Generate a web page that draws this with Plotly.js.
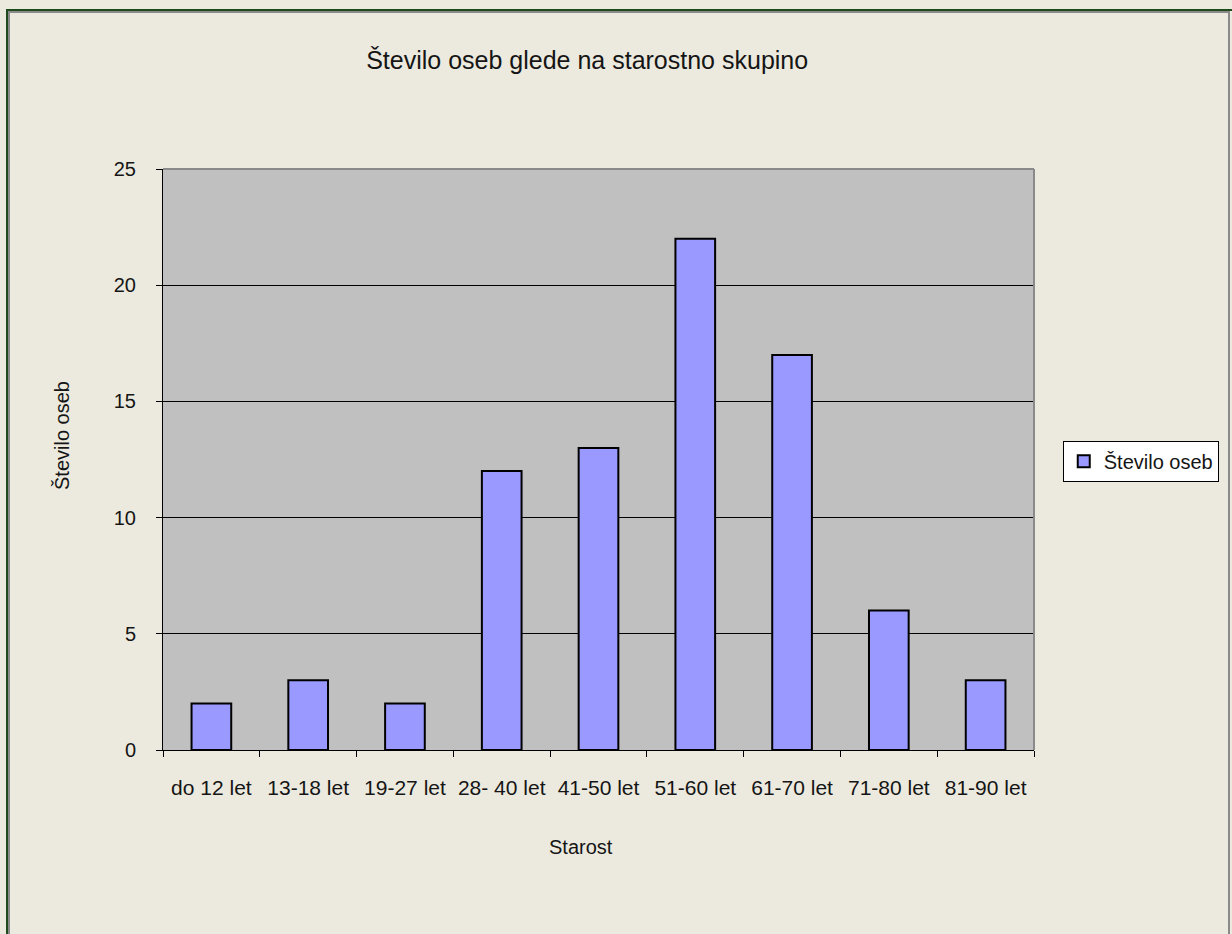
<!DOCTYPE html>
<html>
<head>
<meta charset="utf-8">
<script src="https://cdn.plot.ly/plotly-3.0.1.min.js"></script>
<style>
html, body { margin: 0; padding: 0; background: #ECEADF; }
#chart { width: 1232px; height: 934px; }
#frame { position: absolute; left: 6px; top: 9px; width: 1232px; height: 940px;
  border-left: 2px solid #1E4A1E; border-top: 2px solid #1E4A1E; box-sizing: border-box; pointer-events: none; }
#frame2 { position: absolute; left: 8px; top: 11px; width: 1222px; height: 940px;
  border-left: 2px solid #8A8A8A; border-top: 2px solid #8A8A8A; border-right: 2px solid #8A8A8A; box-sizing: border-box; pointer-events: none; }
</style>
</head>
<body>
<div id="chart"></div>
<div id="frame"></div>
<div id="frame2"></div>
<script>
const categories = ["do 12 let", "13-18 let", "19-27 let", "28- 40 let", "41-50 let", "51-60 let", "61-70 let", "71-80 let", "81-90 let"];
const values = [2, 3, 2, 12, 13, 22, 17, 6, 3];
const seriesName = "Število oseb";
const yTicks = [0, 5, 10, 15, 20, 25];
const xTitle = "Starost";
const yTitle = "Število oseb";

const font = "Liberation Sans, Arial, sans-serif";
const fs = 20;
const txt = "#151515";

const trace = {
  type: "bar",
  x: categories,
  y: values,
  name: seriesName,
  marker: { color: "#9999FF", line: { color: "#000000", width: 2 } },
  showlegend: true,
  hoverinfo: "x+y"
};

const layout = {
  width: 1232,
  height: 934,
  margin: { l: 163, r: 198, t: 169, b: 184 },
  paper_bgcolor: "#ECEADF",
  plot_bgcolor: "#C0C0C0",
  font: { family: font, size: fs, color: txt },
  title: { text: "Število oseb glede na starostno skupino", font: { family: font, size: 25, color: txt },
    x: 0.487, xanchor: "center", y: 0.936, yanchor: "middle", xref: "paper", yref: "container" },
  bargap: 0.59,
  showlegend: true,
  legend: { x: 1.033, xanchor: "left", y: 0.497, yanchor: "middle", bgcolor: "#FFFFFF",
    bordercolor: "#000000", borderwidth: 1, font: { family: font, size: fs, color: txt },
    itemwidth: 30 },
  xaxis: {
    type: "category",
    tickson: "boundaries",
    ticks: "outside", ticklen: 6, tickcolor: "#000", tickwidth: 1,
    showline: true, linecolor: "#000", linewidth: 1,
    showgrid: false,
    tickfont: { family: font, size: 21, color: txt },
    ticklabelstandoff: 19,
    fixedrange: true
  },
  yaxis: {
    range: [0, 25],
    tickvals: yTicks,
    ticktext: yTicks.map(String),
    ticks: "outside", ticklen: 6, tickcolor: "#000", tickwidth: 1,
    showline: true, linecolor: "#000", linewidth: 1,
    showgrid: true, gridcolor: "#000", gridwidth: 1,
    zeroline: false,
    tickfont: { family: font, size: fs, color: txt },
    ticklabelstandoff: 16,
    fixedrange: true
  },
  annotations: [
    { text: xTitle, xref: "paper", yref: "paper", x: (581 - 163) / 871, y: -(847 - 750) / 581,
      xanchor: "center", yanchor: "middle", showarrow: false, font: { family: font, size: fs, color: txt } },
    { text: yTitle, xref: "paper", yref: "paper", x: -(163 - 62) / 871, y: (750 - 436) / 581,
      xanchor: "center", yanchor: "middle", textangle: -90, showarrow: false, font: { family: font, size: fs, color: txt } }
  ],
  shapes: [
    { type: "line", xref: "paper", yref: "paper", x0: 0, x1: 1, y0: 1, y1: 1, line: { color: "#8A8A8A", width: 2 }, layer: "above" },
    { type: "line", xref: "paper", yref: "paper", x0: 1, x1: 1, y0: 0, y1: 1, line: { color: "#8A8A8A", width: 2 }, layer: "above" }
  ]
};

Plotly.newPlot("chart", [trace], layout, { displayModeBar: false, staticPlot: true });
</script>
</body>
</html>
